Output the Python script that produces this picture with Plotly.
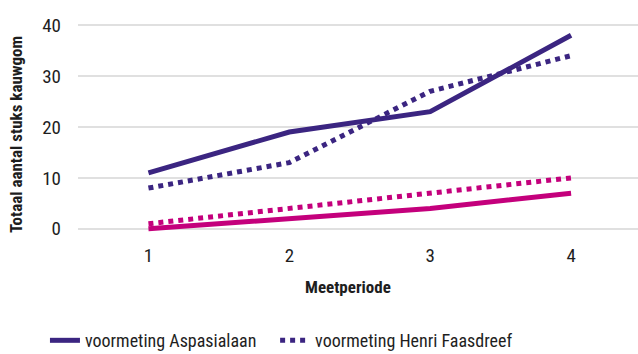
import plotly.graph_objects as go

periods = [1, 2, 3, 4]
tick_labels = ["1", "2", "3", "4"]
aspasialaan_voor = [11, 19, 23, 38]
faasdreef_voor = [8, 13, 27, 34]
aspasialaan_na = [0, 2, 4, 7]
faasdreef_na = [1, 4, 7, 10]
names = ["voormeting Aspasialaan", "voormeting Henri Faasdreef",
         "nameting Aspasialaan", "nameting Henri Faasdreef"]

PURPLE = "#3B2581"
MAGENTA = "#C4007C"
FONT = "Roboto Condensed, Roboto, sans-serif"
TEXT = "#1E1E1E"

fig = go.Figure()
fig.add_trace(go.Scatter(x=periods, y=aspasialaan_voor, mode="lines", name=names[0],
                         line=dict(color=PURPLE, width=5), legend="legend"))
fig.add_trace(go.Scatter(x=periods, y=faasdreef_voor, mode="lines", name=names[1],
                         line=dict(color=PURPLE, width=5, dash="5px,5px"), legend="legend2"))
fig.add_trace(go.Scatter(x=periods, y=aspasialaan_na, mode="lines", name=names[2],
                         line=dict(color=MAGENTA, width=5), showlegend=False))
fig.add_trace(go.Scatter(x=periods, y=faasdreef_na, mode="lines", name=names[3],
                         line=dict(color=MAGENTA, width=5, dash="5px,5px"), showlegend=False))

legend_common = dict(orientation="h", xanchor="left", y=-0.464, yanchor="middle",
                     font=dict(size=18, color=TEXT), itemwidth=30,
                     bgcolor="rgba(0,0,0,0)")

fig.update_layout(
    width=638, height=354,
    margin=dict(l=78, r=0, t=20, b=115, autoexpand=False),
    paper_bgcolor="white", plot_bgcolor="white",
    font=dict(family=FONT, size=19, color=TEXT),
    showlegend=True,
    legend=dict(x=-0.059, **legend_common),
    legend2=dict(x=0.352, **legend_common),
    xaxis=dict(range=[0.5, 4.475], tickmode="array", tickvals=periods, ticktext=tick_labels,
               showgrid=False, zeroline=False, showline=False, ticks="", automargin=False,
               ticklabelstandoff=3, tickfont=dict(size=19)),
    yaxis=dict(range=[-2, 41], tickvals=[0, 10, 20, 30, 40], showgrid=True,
               gridcolor="#E0E0E0", gridwidth=1.5, zeroline=False, showline=False, ticks="",
               automargin=False, ticklabelstandoff=16, tickfont=dict(size=19)),
    annotations=[
        dict(text="<b>Meetperiode</b>", xref="paper", yref="paper",
             x=0.482, y=-0.22, xanchor="center", yanchor="middle",
             showarrow=False, font=dict(size=17)),
        dict(text="<b>Totaal aantal stuks kauwgom</b>", xref="paper", yref="paper",
             x=-0.1107, y=0.475, xanchor="center", yanchor="middle", textangle=-90,
             showarrow=False, font=dict(size=17)),
    ],
)

fig.write_html("out.html", config={"displayModeBar": False},
               post_script="document.body.style.margin='0';document.body.style.overflow='hidden';")
